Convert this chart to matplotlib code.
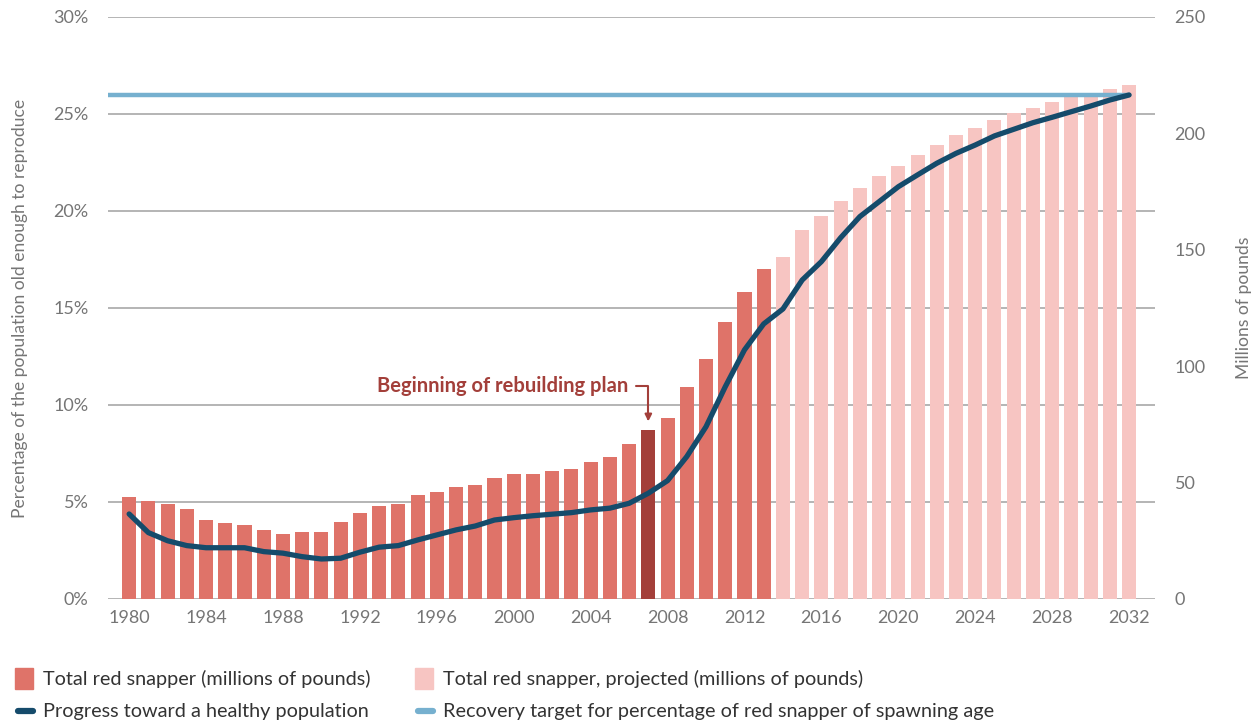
import numpy as np
import matplotlib
matplotlib.use("Agg")
import matplotlib.pyplot as plt
from matplotlib.patches import Rectangle
from matplotlib.lines import Line2D

plt.rcParams['font.family'] = ['Lato', 'DejaVu Sans']

# data
years = list(range(1980, 2033))
pounds = [43.8, 42.1, 40.8, 38.7, 33.9, 32.7, 31.8, 29.7, 27.9, 28.8,
          28.8, 33.1, 36.9, 39.9, 40.8, 44.7, 46.0, 48.1, 49.0, 52.0,
          53.7, 53.7, 55.0, 55.8, 58.8, 61.0, 66.6, 72.6, 77.8, 91.1,
          103.1, 119.0, 131.8, 141.7,
          146.9, 158.5, 164.5, 170.8, 176.7, 181.7, 185.8, 190.8, 195.0, 199.2,
          202.5, 205.8, 208.8, 210.8, 213.3, 215.8, 217.1, 219.2, 220.8]
progress = [4.38, 3.42, 3.0, 2.75, 2.64, 2.64, 2.64, 2.44, 2.36, 2.18,
            2.06, 2.1, 2.41, 2.67, 2.75, 3.04, 3.3, 3.56, 3.76, 4.07,
            4.19, 4.29, 4.37, 4.45, 4.59, 4.68, 4.93, 5.45, 6.1, 7.34,
            8.88, 10.94, 12.84, 14.18, 14.95, 16.44, 17.39, 18.62, 19.71, 20.48,
            21.25, 21.86, 22.46, 22.97, 23.4, 23.87, 24.21, 24.55, 24.83, 25.12,
            25.41, 25.72, 25.98]
target = 26.0
last_actual = 2013
plan_year = 2007

pct_ticks = [0, 5, 10, 15, 20, 25, 30]
lb_ticks = [0, 50, 100, 150, 200, 250]
year_ticks = list(range(1980, 2033, 4))

c_bar = '#df7369'
c_proj = '#f7c5c2'
c_plan = '#a33f3a'
c_line = '#154b6b'
c_target = '#76b0cf'
c_text = '#757575'
c_grid = '#a8a8a8'

fig = plt.figure(figsize=(12.6, 7.26), dpi=100)
ax = fig.add_axes([0.0857, 0.175, 0.831, 0.8016])
axb = ax.twinx()
axl = ax.twinx()

# percent axis (left) with grid
ax.set_ylim(0, 30)
ax.set_xlim(1978.9, 2033.35)
ax.set_yticks(pct_ticks)
ax.set_yticklabels([f'{t}%' for t in pct_ticks])
ax.grid(axis='y', color=c_grid, lw=1.2)
ax.set_axisbelow(True)
ax.set_xticks(year_ticks)
ax.tick_params(length=0, labelsize=13, colors=c_text, pad=8)
ax.tick_params(axis='y', pad=14)
ax.set_ylabel('Percentage of the population old enough to reproduce',
              fontsize=12.6, color=c_text, labelpad=18)

# bars (right axis)
colors = []
for y in years:
    if y == plan_year:
        colors.append(c_plan)
    elif y <= last_actual:
        colors.append(c_bar)
    else:
        colors.append(c_proj)
axb.bar(years, pounds, width=0.73, color=colors, zorder=2)
axb.set_ylim(0, 250)
axb.set_yticks(lb_ticks)
axb.tick_params(length=0, labelsize=13, colors=c_text, pad=14)
axb.set_ylabel('Millions of pounds', fontsize=12.6, color=c_text, labelpad=22)

# lines (percent scale, on top)
axl.set_ylim(0, 30)
axl.set_yticks([])
axl.plot([1978.7, years[-1]], [target, target], color=c_target, lw=3.2,
         solid_capstyle='round')
axl.plot(years, progress, color=c_line, lw=3.8, solid_capstyle='round',
         solid_joinstyle='round')

# annotation
axl.text(2005.95, 11.0, 'Beginning of rebuilding plan', ha='right', va='center',
         fontsize=14.5, fontweight='bold', color=c_plan)
axl.annotate('', xy=(plan_year, 9.15), xytext=(2006.35, 11.0),
             arrowprops=dict(arrowstyle='-|>', color=c_plan, lw=1.5,
                             mutation_scale=10, shrinkA=0, shrinkB=0,
                             connectionstyle='angle,angleA=0,angleB=90,rad=0'))

for a in (ax, axb, axl):
    for s in a.spines.values():
        s.set_visible(False)

# legend drawn by hand in figure pixels
W, H = 1260, 726
def fx(x):
    return x / W
def fy(y):
    return 1 - y / H

fig.add_artist(Rectangle((fx(15), fy(689)), 18 / W, 21 / H, color=c_bar,
                         transform=fig.transFigure))
fig.add_artist(Rectangle((fx(415), fy(689)), 18 / W, 21 / H, color=c_proj,
                         transform=fig.transFigure))
fig.add_artist(Line2D([fx(18), fx(33)], [fy(711), fy(711)], color=c_line, lw=4.5,
                      solid_capstyle='round', transform=fig.transFigure))
fig.add_artist(Line2D([fx(418), fx(433)], [fy(711), fy(711)], color=c_target, lw=4.5,
                      solid_capstyle='round', transform=fig.transFigure))
leg_kw = dict(fontsize=14.3, color='#333333', va='center', ha='left')
fig.text(fx(43), fy(679), 'Total red snapper (millions of pounds)', **leg_kw)
fig.text(fx(443), fy(679), 'Total red snapper, projected (millions of pounds)', **leg_kw)
fig.text(fx(43), fy(711), 'Progress toward a healthy population', **leg_kw)
fig.text(fx(443), fy(711), 'Recovery target for percentage of red snapper of spawning age', **leg_kw)

fig.savefig('out.png', dpi=100)
